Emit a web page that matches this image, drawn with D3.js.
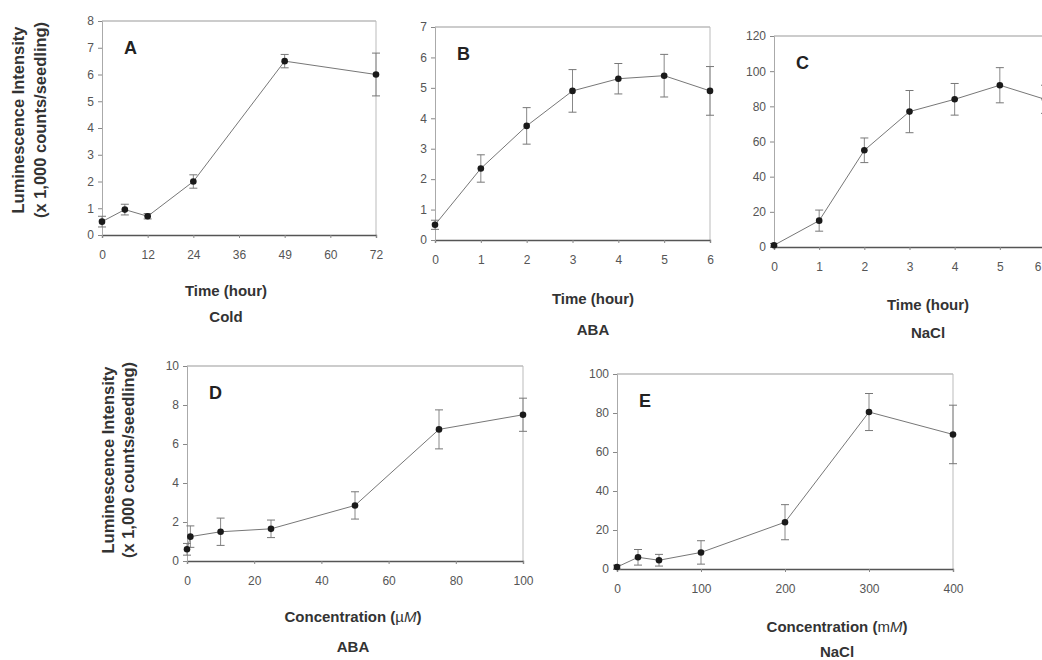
<!DOCTYPE html>
<html>
<head>
<meta charset="utf-8">
<script src="https://cdn.jsdelivr.net/npm/d3@7"></script>
<style>
  body { margin: 0; background: #fff; }
  svg { display: block; font-family: "Liberation Sans", Arial, sans-serif; }
</style>
</head>
<body>
<script>
const w = 1042;
const h = 660;

// A - cold, time course
const aHours = [0, 6, 12, 24, 48, 72];
const aMean = [0.5, 0.95, 0.7, 2.0, 6.5, 6.0];
const aErr = [0.2, 0.2, 0.1, 0.25, 0.25, 0.8];
const aXTicks = [0, 12, 24, 36, 48, 60, 72];
const aXLabels = ["0", "12", "24", "36", "49", "60", "72"];
const aYTicks = [0, 1, 2, 3, 4, 5, 6, 7, 8];

// B - ABA, time course
const bHours = [0, 1, 2, 3, 4, 5, 6];
const bMean = [0.5, 2.35, 3.75, 4.9, 5.3, 5.4, 4.9];
const bErr = [0.15, 0.45, 0.6, 0.7, 0.5, 0.7, 0.8];
const bXTicks = [0, 1, 2, 3, 4, 5, 6];
const bYTicks = [0, 1, 2, 3, 4, 5, 6, 7];

// C - NaCl, time course
const cHours = [0, 1, 2, 3, 4, 5, 6];
const cMean = [1, 15, 55, 77, 84, 92, 84];
const cErr = [1, 6, 7, 12, 9, 10, 8];
const cXTicks = [0, 1, 2, 3, 4, 5, 6];
const cYTicks = [0, 20, 40, 60, 80, 100, 120];

// D - ABA, concentration
const dConc = [0, 1, 10, 25, 50, 75, 100];
const dMean = [0.6, 1.25, 1.5, 1.65, 2.85, 6.75, 7.5];
const dErr = [0.3, 0.55, 0.7, 0.45, 0.7, 1.0, 0.85];
const dXTicks = [0, 20, 40, 60, 80, 100];
const dYTicks = [0, 2, 4, 6, 8, 10];

// E - NaCl, concentration
const eConc = [0, 25, 50, 100, 200, 300, 400];
const eMean = [1, 6, 4.5, 8.5, 24, 80.5, 69];
const eErr = [1, 4, 3, 6, 9, 9.5, 15];
const eXTicks = [0, 100, 200, 300, 400];
const eYTicks = [0, 20, 40, 60, 80, 100];

const svg = d3.select("body")
    .append("svg")
    .attr("width", w)
    .attr("height", h)

const panels = [
  { letter: "A", xs: aHours, ys: aMean, err: aErr, xDom: [0, 72], yDom: [0, 8],
    xTicks: aXTicks, xLabels: aXLabels, yTicks: aYTicks,
    left: 102, right: 376, top: 21, bottom: 235,
    xTitle: "Time (hour)", sub: "Cold", titleX: 226, titleY: 296, subY: 322, yTitle: [18, 40], yMid: 120 },
  { letter: "B", xs: bHours, ys: bMean, err: bErr, xDom: [0, 6], yDom: [0, 7],
    xTicks: bXTicks, yTicks: bYTicks,
    left: 435, right: 710, top: 27, bottom: 240,
    xTitle: "Time (hour)", sub: "ABA", titleX: 593, titleY: 304, subY: 335 },
  { letter: "C", xs: cHours, ys: cMean, err: cErr, xDom: [0, 6], yDom: [0, 120],
    xTicks: cXTicks, yTicks: cYTicks,
    left: 774, right: 1045, top: 36, bottom: 247,
    xTitle: "Time (hour)", sub: "NaCl", titleX: 928, titleY: 310, subY: 338 },
  { letter: "D", xs: dConc, ys: dMean, err: dErr, xDom: [0, 100], yDom: [0, 10],
    xTicks: dXTicks, yTicks: dYTicks,
    left: 187, right: 523, top: 366, bottom: 561,
    xTitle: "Concentration (", unit: "\u00b5M", sub: "ABA", titleX: 353, titleY: 622, subY: 652, yTitle: [108, 128], yMid: 460 },
  { letter: "E", xs: eConc, ys: eMean, err: eErr, xDom: [0, 400], yDom: [0, 100],
    xTicks: eXTicks, yTicks: eYTicks,
    left: 617, right: 953, top: 374, bottom: 569,
    xTitle: "Concentration (", unit: "mM", sub: "NaCl", titleX: 837, titleY: 632, subY: 657 }
]

panels.forEach(p => {
  const x = d3.scaleLinear().domain(p.xDom).range([p.left, p.right])
  const y = d3.scaleLinear().domain(p.yDom).range([p.bottom, p.top])
  const g = svg.append("g")

  // frame top and right, lighter than axes
  g.append("line")
    .attr("x1", p.left).attr("x2", p.right)
    .attr("y1", p.top).attr("y2", p.top)
    .style("stroke", "#999").style("stroke-width", 1.2)
  g.append("line")
    .attr("x1", p.right).attr("x2", p.right)
    .attr("y1", p.top).attr("y2", p.bottom)
    .style("stroke", "#bbb").style("stroke-width", 1)

  const xAxis = d3.axisBottom(x).tickValues(p.xTicks).tickSize(3).tickPadding(12)
    .tickFormat(p.xLabels ? ((d, i) => p.xLabels[i]) : d3.format("d"))
  const yAxis = d3.axisLeft(y).tickValues(p.yTicks).tickSize(4).tickPadding(4)
    .tickFormat(d3.format("d"))

  const gx = g.append("g")
    .attr("transform", `translate(0, ${p.bottom})`)
    .call(xAxis)
  const gy = g.append("g")
    .attr("transform", `translate(${p.left}, 0)`)
    .call(yAxis)

  // a label past the page edge (panel C, "6") is pulled back inside
  gx.selectAll(".tick")
    .filter(d => x(d) > w - 6)
    .select("text")
      .attr("text-anchor", "end")
      .attr("dx", d => (w - 1) - x(d))

  gx.select(".domain").style("stroke", "#555").style("stroke-width", 1.3)
  gy.select(".domain").style("stroke", "#aaa")
  g.selectAll(".tick line").style("stroke", "#888")
  g.selectAll(".tick text")
    .style("fill", "#555")
    .style("font-size", "12px")

  const pts = p.xs.map((v, i) => ({ x: v, y: p.ys[i], e: p.err[i] }))

  // connecting line
  g.append("path")
    .datum(pts)
    .attr("d", d3.line().x(d => x(d.x)).y(d => y(d.y)))
    .style("fill", "none")
    .style("stroke", "#777")
    .style("stroke-width", 1)

  // error bars
  const eb = g.selectAll(".err")
    .data(pts)
    .enter()
    .append("g")
      .attr("class", "err")
  eb.append("line")
    .attr("x1", d => x(d.x)).attr("x2", d => x(d.x))
    .attr("y1", d => y(Math.max(0, d.y - d.e))).attr("y2", d => y(d.y + d.e))
    .style("stroke", "#888")
  eb.append("line")
    .attr("x1", d => x(d.x) - 4).attr("x2", d => x(d.x) + 4)
    .attr("y1", d => y(d.y + d.e)).attr("y2", d => y(d.y + d.e))
    .style("stroke", "#777")
  eb.append("line")
    .attr("x1", d => x(d.x) - 4).attr("x2", d => x(d.x) + 4)
    .attr("y1", d => y(Math.max(0, d.y - d.e))).attr("y2", d => y(Math.max(0, d.y - d.e)))
    .style("stroke", "#777")

  // data dots
  g.selectAll(".dot")
    .data(pts)
    .enter()
    .append("circle")
      .attr("class", "dot")
      .attr("cx", d => x(d.x))
      .attr("cy", d => y(d.y))
      .attr("r", 3.3)
      .style("fill", "#1a1a1a")

  // panel letter
  g.append("text")
    .attr("x", p.left + 22)
    .attr("y", p.top + 33)
    .text(p.letter)
    .style("font-weight", "bold")
    .style("font-size", "18px")
    .style("fill", "#222")

  // x title
  const t = g.append("text")
    .attr("x", p.titleX)
    .attr("y", p.titleY)
    .attr("text-anchor", "middle")
    .style("font-weight", "bold")
    .style("font-size", "15px")
    .style("fill", "#333")
  t.append("tspan").text(p.xTitle)
  if (p.unit) {
    t.append("tspan").text(p.unit.slice(0, -1)).style("font-weight", "normal")
    t.append("tspan").text(p.unit.slice(-1)).style("font-style", "italic").style("font-weight", "normal")
    t.append("tspan").text(")")
  }

  g.append("text")
    .attr("x", p.titleX)
    .attr("y", p.subY)
    .attr("text-anchor", "middle")
    .text(p.sub)
    .style("font-weight", "bold")
    .style("font-size", "15px")
    .style("fill", "#333")

  // y title (left column only)
  if (p.yTitle) {
    const lines = ["Luminescence Intensity", "(x 1,000 counts/seedling)"]
    lines.forEach((s, i) => {
      g.append("text")
        .attr("transform", `translate(${p.yTitle[i] + 6}, ${p.yMid}) rotate(-90)`)
        .attr("text-anchor", "middle")
        .text(s)
        .style("font-weight", "bold")
        .style("font-size", "16.5px")
        .style("fill", "#333")
    })
  }
})
</script>
</body>
</html>
